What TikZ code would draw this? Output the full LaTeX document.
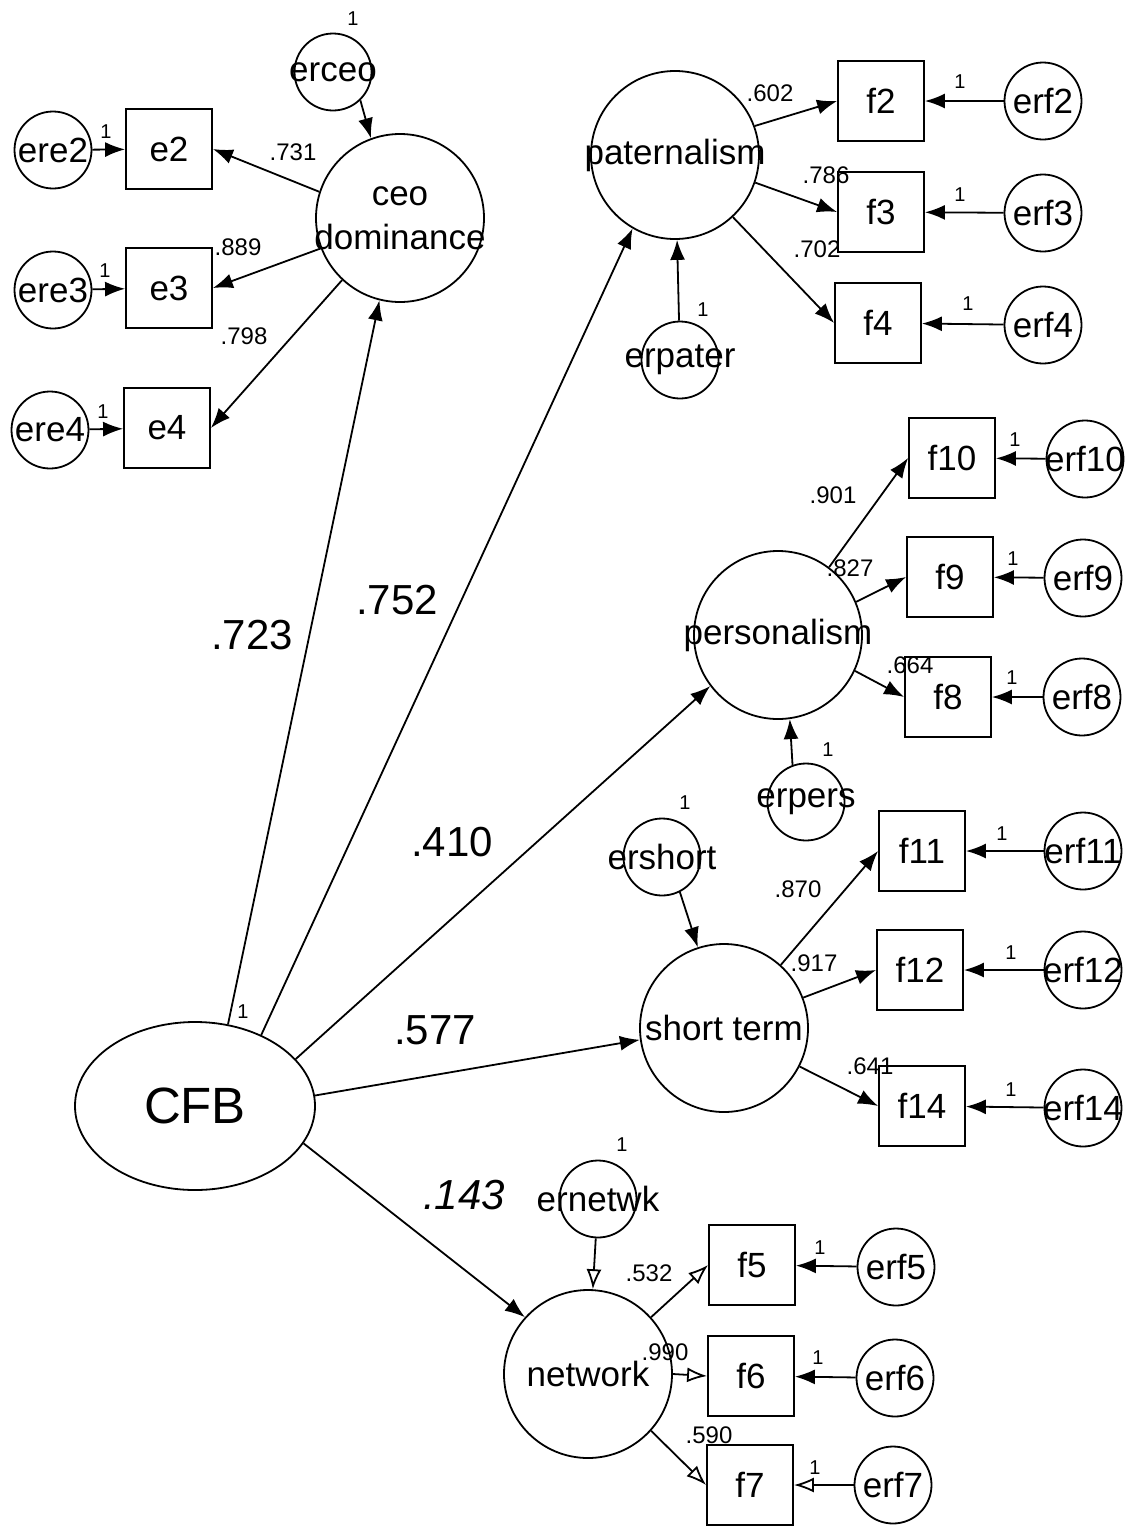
\documentclass[tikz,border=0pt]{standalone}
\usepackage{fontspec}
\setmainfont{Liberation Sans}
\usetikzlibrary{arrows.meta,shapes.geometric}
\newcommand{\zw}[1]{\makebox[0pt]{#1}}

\begin{document}
\begin{tikzpicture}[x=0.5pt,y=-0.5pt,>={Latex[length=10pt,width=7.5pt]},line width=0.9pt,
  every node/.style={font=\fontsize{17.5}{21}\selectfont},
  err/.style={draw,circle,inner sep=0pt,minimum size=38.5pt},
  lat/.style={draw,circle,inner sep=0pt,minimum size=84pt},
  obs/.style={draw,rectangle,inner sep=0pt,minimum width=43pt,minimum height=40pt},
  coef/.style={font=\fontsize{12}{14}\selectfont,inner sep=0pt},
  big/.style={font=\fontsize{21}{24}\selectfont,inner sep=0pt},
  one/.style={font=\fontsize{10}{12}\selectfont,inner sep=0pt},
  op/.style={-{Latex[open,length=10pt,width=7.5pt]}}]
  \useasboundingbox (0,0) rectangle (1136,1527);
  \node[err] (erceo) at (333,72) {\zw{erceo}};
  \node[lat,align=center,font=\fontsize{17.5}{22}\selectfont] (ceo) at (400,218) {\zw{ceo}\\\zw{dominance}};
  \node[err] (ere2) at (53,150) {\zw{ere2}}; \node[obs] (e2) at (169,149) {e2};
  \node[err] (ere3) at (53,290) {\zw{ere3}}; \node[obs] (e3) at (169,288) {e3};
  \node[err] (ere4) at (50,430) {\zw{ere4}}; \node[obs] (e4) at (167,428) {e4};
  \node[lat] (pat) at (675,155) {\zw{paternalism}};
  \node[obs] (f2) at (881,101) {f2}; \node[err] (erf2) at (1043,101) {\zw{erf2}};
  \node[obs] (f3) at (881,212) {f3}; \node[err] (erf3) at (1043,213) {\zw{erf3}};
  \node[obs] (f4) at (878,323) {f4}; \node[err] (erf4) at (1043,325) {\zw{erf4}};
  \node[err] (erpater) at (680,360) {\zw{erpater}};
  \node[lat] (pers) at (778,635) {\zw{personalism}};
  \node[obs] (f10) at (952,458) {f10}; \node[err] (erf10) at (1085,459) {\zw{erf10}};
  \node[obs] (f9) at (950,577) {f9}; \node[err] (erf9) at (1083,578) {\zw{erf9}};
  \node[obs] (f8) at (948,697) {f8}; \node[err] (erf8) at (1082,697) {\zw{erf8}};
  \node[err] (erpers) at (806,802) {\zw{erpers}};
  \node[err] (ershort) at (662,857) {\zw{ershort}};
  \node[lat] (st) at (724,1028) {\zw{short term}};
  \node[obs] (f11) at (922,851) {f11}; \node[err] (erf11) at (1083,851) {\zw{erf11}};
  \node[obs] (f12) at (920,970) {f12}; \node[err] (erf12) at (1083,970) {\zw{erf12}};
  \node[obs] (f14) at (922,1106) {f14}; \node[err] (erf14) at (1083,1108) {\zw{erf14}};
  \node[draw,ellipse,inner sep=0pt,minimum width=120pt,minimum height=84pt,font=\fontsize{25.5}{30}\selectfont] (cfb) at (195,1106) {CFB};
  \node[err] (ernet) at (598,1199) {\zw{ernetwk}};
  \node[lat] (net) at (588,1374) {\zw{network}};
  \node[obs] (f5) at (752,1265) {f5}; \node[err] (erf5) at (896,1267) {\zw{erf5}};
  \node[obs] (f6) at (751,1376) {f6}; \node[err] (erf6) at (895,1378) {\zw{erf6}};
  \node[obs] (f7) at (750,1485) {f7}; \node[err] (erf7) at (893,1485) {\zw{erf7}};
  \draw[->] (erceo.-46)--(ceo.110);
  \draw[->] (ceo.162)--(e2.east); \draw[->] (ceo.201)--(e3.east); \draw[->] (ceo.227)--(e4.east);
  \draw[->] (ere2)--(e2); \draw[->] (ere3)--(e3); \draw[->] (ere4)--(e4);
  \draw[->] (pat.20)--(f2.west); \draw[->] (pat.-19)--(f3.west); \draw[->] (pat.-47)--(f4.west);
  \draw[->] (erf2)--(f2); \draw[->] (erf3)--(f3); \draw[->] (erf4)--(f4);
  \draw[->] (erpater)--(pat);
  \draw[->] (pers.53)--(f10.west); \draw[->] (pers.23)--(f9.west); \draw[->] (pers.-25)--(f8.west);
  \draw[->] (erf10)--(f10); \draw[->] (erf9)--(f9); \draw[->] (erf8)--(f8);
  \draw[->] (erpers.110)--(pers.-82);
  \draw[->] (ershort.-63)--(st.108);
  \draw[->] (st.48)--(f11.west); \draw[->] (st.21)--(f12.west); \draw[->] (st.-27)--(f14.west);
  \draw[->] (erf11)--(f11); \draw[->] (erf12)--(f12); \draw[->] (erf14)--(f14);
  \draw[->] (cfb.68)--(ceo.256); \draw[->] (cfb.47)--(pat.240); \draw[->] (cfb.25)--(pers.217);
  \draw[->] (cfb.5)--(st.188); \draw[->] (cfb.-19)--(net.138);
  \draw[op] (ernet)--(net);
  \draw[op] (net.42)--(f5.west); \draw[op] (net.0)--(f6.west); \draw[op] (net.-42)--(f7.west);
  \draw[->] (erf5)--(f5); \draw[->] (erf6)--(f6); \draw[op] (erf7)--(f7);
  \node[one] (o1) at (353,19) {1}; \node[one] (o2) at (106,132) {1};
  \node[one] (o3) at (105,271) {1}; \node[one] (o4) at (103,412) {1};
  \node[coef] (c731) at (293,152) {.731}; \node[coef] (c889) at (238,247) {.889};
  \node[coef] (c798) at (244,336) {.798};
  \node[coef] (c602) at (770,93) {.602}; \node[coef] (c786) at (826,175) {.786};
  \node[coef] (c702) at (817,249) {.702};
  \node[one] (o5) at (960,82) {1}; \node[one] (o6) at (960,195) {1};
  \node[one] (o7) at (968,304) {1}; \node[one] (o8) at (703,310) {1};
  \node[coef] (c901) at (833,495) {.901}; \node[coef] (c827) at (850,568) {.827};
  \node[coef] (c664) at (910,665) {.664};
  \node[one] (o9) at (1015,440) {1}; \node[one] (o10) at (1013,559) {1};
  \node[one] (o11) at (1012,678) {1}; \node[one] (o12) at (828,750) {1};
  \node[one] (o13) at (685,803) {1};
  \node[coef] (c870) at (798,889) {.870}; \node[coef] (c917) at (814,963) {.917};
  \node[coef] (c641) at (870,1066) {.641};
  \node[one] (o14) at (1002,834) {1}; \node[one] (o15) at (1011,953) {1};
  \node[one] (o16) at (1011,1090) {1};
  \node[big] (b723) at (252,635) {.723}; \node[big] (b752) at (397,600) {.752};
  \node[big] (b410) at (452,842) {.410}; \node[big] (b577) at (435,1030) {.577};
  \node[big,font=\fontsize{21}{24}\selectfont\itshape] (b143) at (464,1195) {.143};
  \node[one] (o17) at (243,1012) {1}; \node[one] (o18) at (622,1145) {1};
  \node[coef] (c532) at (649,1273) {.532}; \node[coef] (c990) at (665,1352) {.990};
  \node[coef] (c590) at (709,1435) {.590};
  \node[one] (o19) at (820,1248) {1}; \node[one] (o20) at (818,1358) {1};
  \node[one] (o21) at (815,1468) {1};
\end{tikzpicture}
\end{document}
